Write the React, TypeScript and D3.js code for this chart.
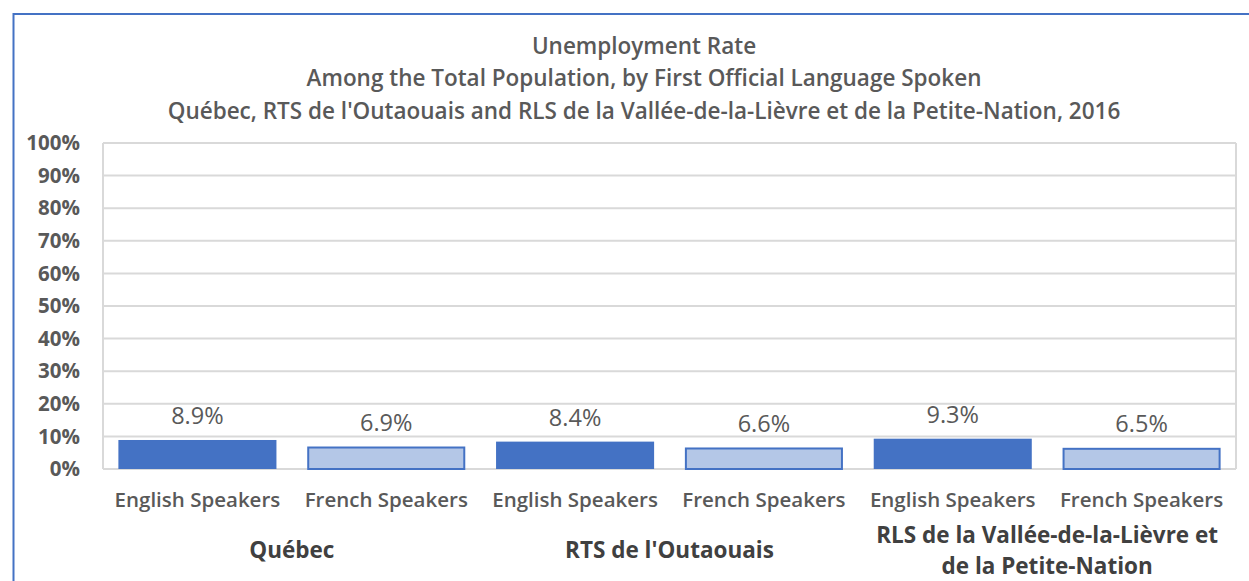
import React, { useEffect } from "react";
import * as d3 from "d3";

// chart data
const groups = ["Québec", "RTS de l'Outaouais", "RLS de la Vallée-de-la-Lièvre et de la Petite-Nation"];
const groupLines = [["Québec"], ["RTS de l'Outaouais"], ["RLS de la Vallée-de-la-Lièvre et", "de la Petite-Nation"]];
const speakers = ["English Speakers", "French Speakers"];
const englishValues = [8.9, 8.4, 9.3];
const frenchValues = [6.9, 6.6, 6.5];
const yTicks = [0, 10, 20, 30, 40, 50, 60, 70, 80, 90, 100];
const titleLines = [
  "Unemployment Rate",
  "Among the Total Population, by First Official Language Spoken",
  "Québec, RTS de l'Outaouais and RLS de la Vallée-de-la-Lièvre et de la Petite-Nation, 2016",
];

const W = 1249;
const H = 581;
const margin = { top: 143, right: 13, bottom: 112, left: 103 };
const textColor = "#595959";
const font = "'Open Sans', 'Liberation Sans', sans-serif";

const App = () => {
  useEffect(() => {
    document.body.style.margin = "0";
  }, []);

  // one bar per group x speaker
  const bars = groups.flatMap((g, gi) => [
    { key: `${gi}-0`, group: gi, speaker: 0, value: englishValues[gi] },
    { key: `${gi}-1`, group: gi, speaker: 1, value: frenchValues[gi] },
  ]);

  const x = d3
    .scaleBand<string>()
    .domain(bars.map((d) => d.key))
    .range([margin.left, W - margin.right])
    .paddingInner(0.163)
    .paddingOuter(0.0815);

  const y = d3
    .scaleLinear()
    .domain([0, 100])
    .range([H - margin.bottom, margin.top]);

  const step = x.step();
  const x0 = margin.left;

  return (
    <svg width={W} height={H} style={{ display: "block", background: "#fff" }}>
      {/* outer frame */}
      <rect x={13.5} y={14} width={W + 20} height={H + 20} fill="none" stroke="#4472C4" strokeWidth={2} />

      {/* title */}
      {titleLines.map((t, i) => (
        <text
          key={i}
          x={644}
          y={46 + i * 32.5}
          dy="0.35em"
          textAnchor="middle"
          fontFamily={font}
          fontWeight={600}
          fontSize={22.5}
          fill={textColor}
        >
          {t}
        </text>
      ))}

      {/* gridlines */}
      {yTicks.map((t) => (
        <line
          key={t}
          x1={margin.left}
          x2={W - margin.right}
          y1={y(t)}
          y2={y(t)}
          stroke="#D9D9D9"
          strokeWidth={2}
        />
      ))}
      <line x1={margin.left} x2={margin.left} y1={y(100)} y2={y(0)} stroke="#D9D9D9" strokeWidth={2} />
      <line x1={W - margin.right} x2={W - margin.right} y1={y(100)} y2={y(0)} stroke="#D9D9D9" strokeWidth={2} />

      {/* y tick labels */}
      {yTicks.map((t) => (
        <text
          key={t}
          x={80}
          y={y(t)}
          dy="0.35em"
          textAnchor="end"
          fontFamily={font}
          fontWeight={700}
          fontSize={20.5}
          fill={textColor}
        >
          {t}%
        </text>
      ))}

      {/* bars */}
      {bars.map((d) =>
        d.speaker === 0 ? (
          <rect
            key={d.key}
            x={x(d.key)}
            y={y(d.value)}
            width={x.bandwidth()}
            height={y(0) - y(d.value)}
            fill="#4472C4"
          />
        ) : (
          <rect
            key={d.key}
            x={(x(d.key) ?? 0) + 1}
            y={y(d.value) + 1}
            width={x.bandwidth() - 2}
            height={y(0) - y(d.value) - 1}
            fill="#B4C7E7"
            stroke="#4472C4"
            strokeWidth={2}
          />
        )
      )}

      {/* value labels */}
      {bars.map((d) => (
        <text
          key={d.key}
          x={(x(d.key) ?? 0) + x.bandwidth() / 2}
          y={y(d.value) - 24}
          dy="0.35em"
          textAnchor="middle"
          fontFamily={font}
          fontSize={23.5}
          fill={textColor}
        >
          {d.value.toFixed(1)}%
        </text>
      ))}

      {/* category labels */}
      {bars.map((d) => (
        <text
          key={d.key}
          x={(x(d.key) ?? 0) + x.bandwidth() / 2}
          y={500}
          dy="0.35em"
          textAnchor="middle"
          fontFamily={font}
          fontWeight={600}
          fontSize={20.5}
          fill={textColor}
        >
          {speakers[d.speaker]}
        </text>
      ))}

      {/* group labels */}
      {groupLines.map((lines, gi) =>
        lines.map((l, li) => (
          <text
            key={`${gi}-${li}`}
            x={x0 + step * (gi * 2 + 1)}
            y={lines.length === 1 ? 550 : 535 + li * 31}
            dy="0.35em"
            textAnchor="middle"
            fontFamily={font}
            fontWeight={700}
            fontSize={22.5}
            fill="#404040"
          >
            {l}
          </text>
        ))
      )}
    </svg>
  );
};

export default App;
